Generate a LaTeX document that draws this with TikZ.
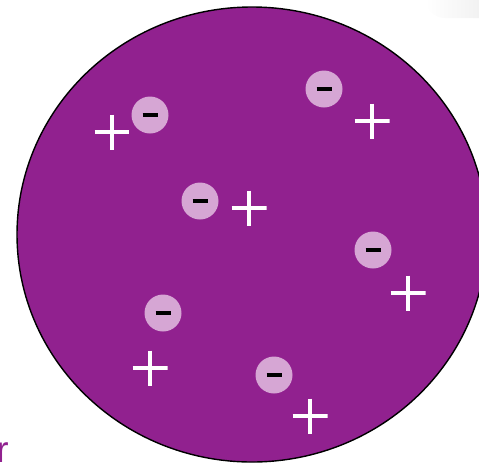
\documentclass[tikz,border=0pt]{standalone}
\usepackage{fontspec}
\setsansfont{Liberation Sans}
\definecolor{cellpurple}{RGB}{145,33,143}
\definecolor{chargepink}{RGB}{214,166,212}
\begin{document}
\begin{tikzpicture}[x=0.02cm, y=-0.02cm,
    negcharge/.style={circle, fill=chargepink, inner sep=0pt, minimum size=0.74cm,
      path picture={\draw[black, line width=0.09cm]
        ([xshift=-0.15cm]path picture bounding box.center) --
        ([xshift=0.15cm]path picture bounding box.center);}},
    poscharge/.style={inner sep=0pt, minimum size=0.7cm,
      path picture={\draw[white, line width=0.065cm]
        (path picture bounding box.north) -- (path picture bounding box.south)
        (path picture bounding box.west) -- (path picture bounding box.east);}}]
  \useasboundingbox (0,0) rectangle (479,464);
  \clip (0,0) rectangle (479,464);
  % faint shadow of something off the page
  \shade[left color=white, right color=gray!18, rounded corners=0.4cm]
    (425,-20) rectangle (520,18);
  % the body
  \draw[fill=cellpurple, line width=0.8pt] (252,234.5) ellipse [x radius=235, y radius=227.5];
  % charges in pairs
  \node[negcharge] (n1) at (150,115) {};
  \node[poscharge] (p1) at (112,132) {};
  \node[negcharge] (n2) at (324,89) {};
  \node[poscharge] (p2) at (372,121) {};
  \node[negcharge] (n3) at (200,201) {};
  \node[poscharge] (p3) at (249,208) {};
  \node[negcharge] (n4) at (373,250) {};
  \node[poscharge] (p4) at (408,293) {};
  \node[negcharge] (n5) at (163,313) {};
  \node[poscharge] (p5) at (150,368) {};
  \node[negcharge] (n6) at (274,375) {};
  \node[poscharge] (p6) at (310,416) {};
  % cut-off label
  \node[anchor=base east, inner sep=0pt, text=cellpurple,
    font=\sffamily\fontsize{21}{24}\selectfont] (lbl) at (9,462) {r};
\end{tikzpicture}
\end{document}
